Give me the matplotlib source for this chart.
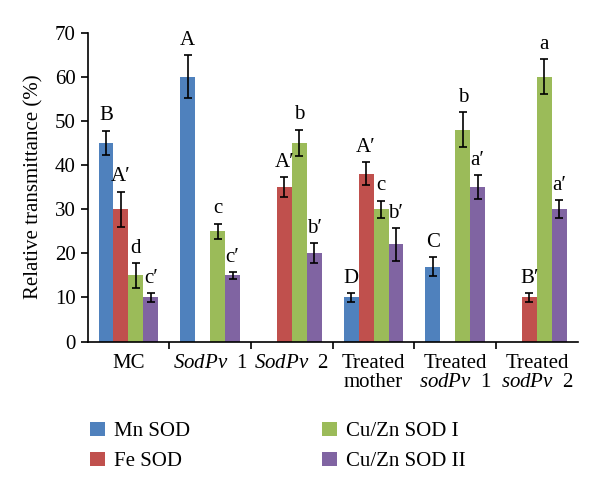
import matplotlib.pyplot as plt
import numpy as np

plt.rcParams['font.family'] = ['Liberation Serif', 'DejaVu Serif']
plt.rcParams['mathtext.fontset'] = 'custom'
plt.rcParams['mathtext.rm'] = 'Liberation Serif'
plt.rcParams['mathtext.it'] = 'Liberation Serif:italic'

groups = ['MC', '$\\it{SodPv}$  1', '$\\it{SodPv}$  2', 'Treated\nmother',
          'Treated\n$\\it{sodPv}$  1', 'Treated\n$\\it{sodPv}$  2']
series = ['Mn SOD', 'Fe SOD', 'Cu/Zn SOD I', 'Cu/Zn SOD II']
colors = ['#4F81BD', '#C0504D', '#9BBB59', '#8064A2']

mn_sod = [45, 60, 0, 10, 17, 0]
fe_sod = [30, 0, 35, 38, 0, 10]
cuzn_1 = [15, 25, 45, 30, 48, 60]
cuzn_2 = [10, 15, 20, 22, 35, 30]

mn_err = [2.8, 4.9, 0, 1.0, 2.1, 0]
fe_err = [4.0, 0, 2.3, 2.6, 0, 1.0]
cuzn_1_err = [2.8, 1.7, 3.0, 1.9, 3.9, 3.9]
cuzn_2_err = [1.0, 0.8, 2.3, 3.7, 2.7, 2.1]

mn_lab = ['B', 'A', '', 'D', 'C', '']
fe_lab = ['A\u2032', '', 'A\u2032', 'A\u2032', '', 'B\u2032']
cuzn_1_lab = ['d', 'c', 'b', 'c', 'b', 'a']
cuzn_2_lab = ['c\u2032', 'c\u2032', 'b\u2032', 'b\u2032', 'a\u2032', 'a\u2032']

vals = [mn_sod, fe_sod, cuzn_1, cuzn_2]
errs = [mn_err, fe_err, cuzn_1_err, cuzn_2_err]
labs = [mn_lab, fe_lab, cuzn_1_lab, cuzn_2_lab]

fs = 15

fig = plt.figure(figsize=(6, 4.93), dpi=100)
ax = fig.add_axes([0.146, 0.307, 0.817, 0.627])

x = np.arange(len(groups))
w = 0.183
for i in range(4):
    pos = x + (i - 1.5) * w
    v = np.array(vals[i], dtype=float)
    e = np.array(errs[i], dtype=float)
    ax.bar(pos, v, w, color=colors[i], label=series[i], zorder=2)
    m = v > 0
    ax.errorbar(pos[m], v[m], yerr=e[m], fmt='none', ecolor='black',
                elinewidth=1.2, capsize=3, capthick=1.2, zorder=3)
    for j in range(len(groups)):
        if labs[i][j]:
            ax.text(pos[j], v[j] + e[j] + 1.2, labs[i][j], ha='center',
                    va='bottom', fontsize=fs)

ax.set_xlim(-0.5, 5.5)
ax.set_ylim(0, 70)
ax.set_yticks(range(0, 71, 10))
ax.set_xticks(np.arange(0.5, 5.5, 1))
ax.set_xticklabels([])
ax.set_xticks(x, minor=True)
ax.set_xticklabels(groups, minor=True, fontsize=fs, linespacing=1.0, va='top')
ax.tick_params(axis='x', which='minor', length=0, pad=9)
ax.tick_params(axis='x', which='major', length=5, width=1.2, direction='out')
ax.tick_params(axis='y', length=5, width=1.2, labelsize=fs)
for s in ['top', 'right']:
    ax.spines[s].set_visible(False)
for s in ['left', 'bottom']:
    ax.spines[s].set_linewidth(1.2)
ax.set_ylabel('Relative transmittance (%)', fontsize=fs, labelpad=8)

fig.legend(loc='upper left', bbox_to_anchor=(0.15, 0.145), ncol=2,
           frameon=False, fontsize=fs, handlelength=0.72, handleheight=0.72,
           columnspacing=6.3, labelspacing=0.5, handletextpad=0.45,
           borderaxespad=0, borderpad=0)

fig.savefig('out.png')
